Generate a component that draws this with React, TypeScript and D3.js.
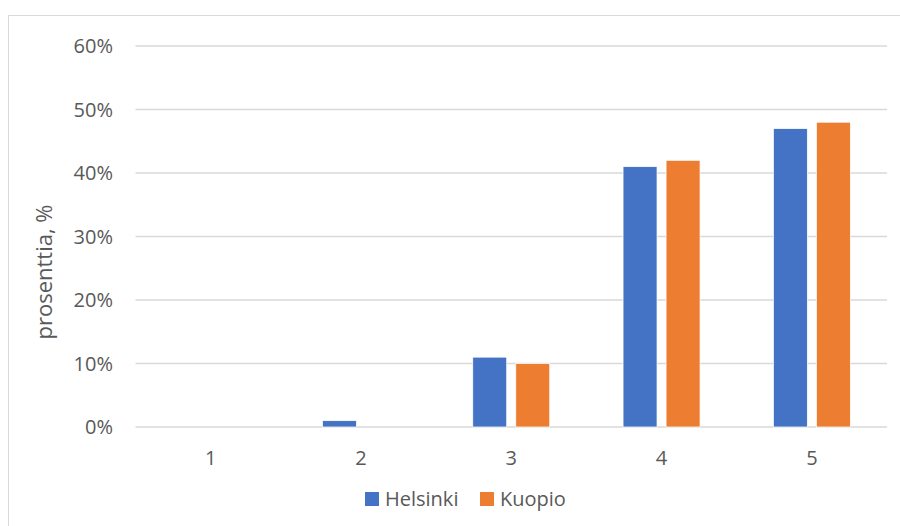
import React from "react";
import * as d3 from "d3";

const categories = ["1", "2", "3", "4", "5"];
const seriesNames = ["Helsinki", "Kuopio"];
const helsinki = [0, 1, 11, 41, 47];
const kuopio = [0, 0, 10, 42, 48];
const yTicks = [0, 10, 20, 30, 40, 50, 60];
const colors = ["#4472C4", "#ED7D31"];

const W = 900;
const H = 526;
const FONT = "'Open Sans', 'DejaVu Sans', sans-serif";
const TEXT = "#595959";
const GRID = "#d9d9d9";

export default function App() {
  const values = [helsinki, kuopio];
  const x = d3.scaleBand<string>().domain(categories).range([135.5, 887]).padding(0);
  const groupW = 77;
  const xs = d3.scaleBand<string>().domain(seriesNames).range([0, groupW]).paddingInner(0.21);
  const y = d3.scaleLinear().domain([0, 60]).range([427, 46]);

  return (
    <svg
      width={W}
      height={H}
      style={{ position: "absolute", left: 0, top: 0, background: "#fff" }}
      fontFamily={FONT}
    >
      <rect x={8.5} y={15.5} width={W + 10} height={H + 10} fill="#fff" stroke={GRID} strokeWidth={1} />

      {yTicks.map((t) => (
        <g key={t}>
          <line x1={135.5} x2={887} y1={y(t)} y2={y(t)} stroke={GRID} strokeWidth={1.3} />
          <text x={113} y={y(t) + 7} textAnchor="end" fontSize={20} fill={TEXT}>
            {`${t}%`}
          </text>
        </g>
      ))}

      {categories.map((c, i) => (
        <g key={c} transform={`translate(${x(c)! + (x.bandwidth() - groupW) / 2},0)`}>
          {seriesNames.map((s, j) => {
            const v = values[j][i];
            if (v <= 0) return null;
            return (
              <rect
                key={s}
                x={xs(s)}
                y={y(v)}
                width={xs.bandwidth()}
                height={y(0) - y(v)}
                fill={colors[j]}
                stroke="#fff"
                strokeWidth={0.75}
              />
            );
          })}
        </g>
      ))}

      {categories.map((c) => (
        <text key={c} x={x(c)! + x.bandwidth() / 2} y={465} textAnchor="middle" fontSize={20} fill={TEXT}>
          {c}
        </text>
      ))}

      <text
        transform="translate(52,272) rotate(-90)"
        textAnchor="middle"
        fontSize={22}
        fill={TEXT}
      >
        prosenttia, %
      </text>

      {[
        { name: seriesNames[0], sx: 365, tx: 385 },
        { name: seriesNames[1], sx: 480, tx: 500 },
      ].map((l, i) => (
        <g key={l.name}>
          <rect x={l.sx} y={492} width={14} height={14} fill={colors[i]} />
          <text x={l.tx} y={505.5} fontSize={20} fill={TEXT}>
            {l.name}
          </text>
        </g>
      ))}
    </svg>
  );
}
